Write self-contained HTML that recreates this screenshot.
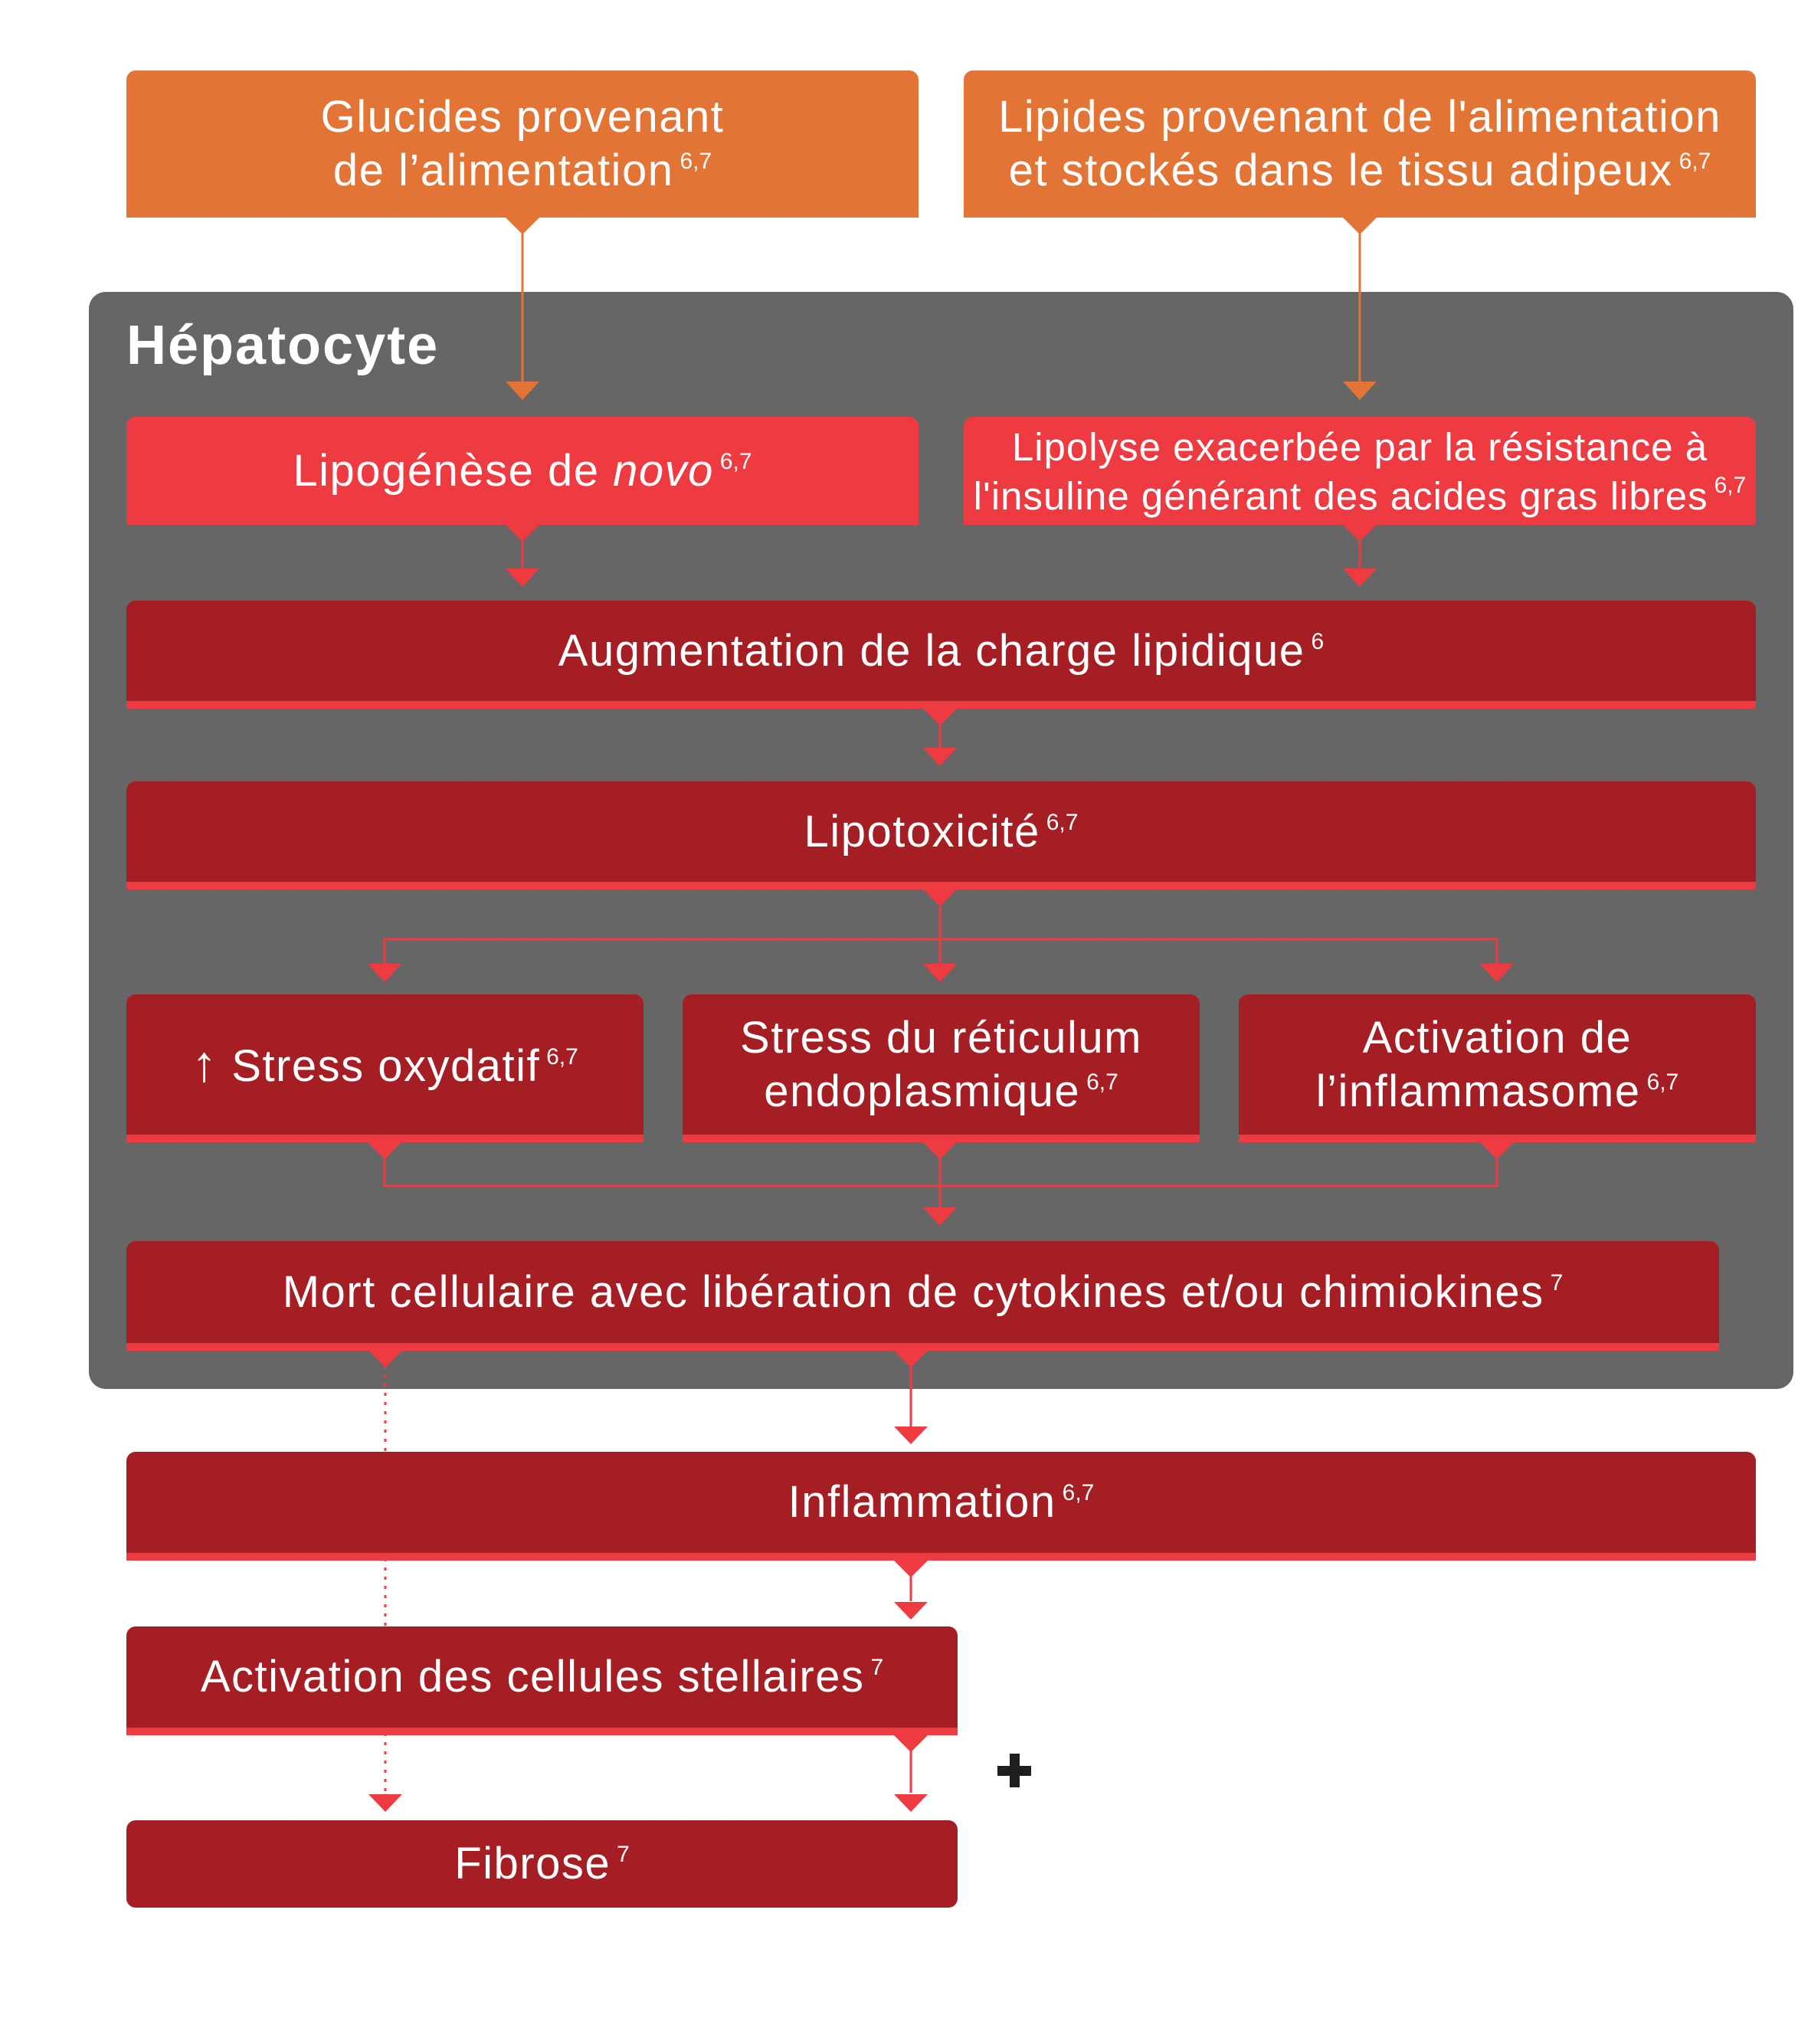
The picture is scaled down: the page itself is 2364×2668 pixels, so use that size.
<!DOCTYPE html>
<html><head><meta charset="utf-8"><style>
html,body{margin:0;padding:0;background:#fff;}
body{width:2364px;height:2668px;position:relative;overflow:hidden;font-family:"Liberation Sans",sans-serif;}
.b{position:absolute;box-sizing:border-box;display:flex;align-items:center;justify-content:center;text-align:center;color:#fff;font-size:58px;letter-spacing:1.5px;line-height:70px;border-radius:12px 12px 0 0;padding-top:10px;}
.o{background:#E27435;}
.r{background:#EE3A41;}
.d{background:#A51E23;border-bottom:10px solid #EE3A41;}
.f{border-radius:12px;border-bottom:none;}
sup{font-size:30px;vertical-align:0;position:relative;top:-22px;margin-left:8px;letter-spacing:0;}
#g{position:absolute;left:116px;top:381px;width:2225px;height:1432px;background:#666;border-radius:22px;}
#h{position:absolute;left:165px;top:410px;font-size:72px;letter-spacing:2px;font-weight:bold;color:#fff;}
svg{position:absolute;left:0;top:0;}
</style></head><body>
<div id="g"></div>
<div id="h">Hépatocyte</div>

<svg width="2364" height="2668" viewBox="0 0 2364 2668">
<g stroke="#E27435" stroke-width="3"><line x1="682" y1="290" x2="682" y2="505"/><line x1="1775" y1="290" x2="1775" y2="505"/></g>
<g stroke="#EE3A41" stroke-width="3" fill="none">
<line x1="682" y1="690" x2="682" y2="745"/><line x1="1775" y1="690" x2="1775" y2="745"/>
<line x1="1227" y1="930" x2="1227" y2="980"/>
<line x1="1227" y1="1165" x2="1227" y2="1260"/>
<polyline points="502,1265 502,1226 1954,1226 1954,1265"/>
<polyline points="502,1510 502,1548 1954,1548 1954,1510"/>
<line x1="1227" y1="1510" x2="1227" y2="1580"/>
<line x1="1189" y1="1770" x2="1189" y2="1868"/>
<line x1="1189" y1="2040" x2="1189" y2="2090"/>
<line x1="1189" y1="2270" x2="1189" y2="2340"/>
<line x1="503" y1="1770" x2="503" y2="2345" stroke-dasharray="4,8"/>
</g>
</svg>

<div class="b o" style="left:165px;top:92px;width:1034px;height:192px;"><span>Glucides provenant<br>de l’alimentation<sup>6,7</sup></span></div>
<div class="b o" style="left:1258px;top:92px;width:1034px;height:192px;"><span>Lipides provenant de l'alimentation<br>et stockés dans le tissu adipeux<sup>6,7</sup></span></div>

<div class="b r" style="left:165px;top:544px;width:1034px;height:141px;"><span>Lipogénèse de <i>novo</i><sup>6,7</sup></span></div>
<div class="b r" style="left:1258px;top:544px;width:1034px;height:141px;font-size:51px;letter-spacing:1px;line-height:64px;"><span>Lipolyse exacerbée par la résistance à<br>l'insuline générant des acides gras libres<sup>6,7</sup></span></div>

<div class="b d" style="left:165px;top:784px;width:2127px;height:141px;"><span>Augmentation de la charge lipidique<sup>6</sup></span></div>
<div class="b d" style="left:165px;top:1020px;width:2127px;height:141px;"><span>Lipotoxicité<sup>6,7</sup></span></div>

<div class="b d" style="left:165px;top:1298px;width:675px;height:193px;"><span><span style="font-size:66px;font-weight:lighter">↑</span> Stress oxydatif<sup>6,7</sup></span></div>
<div class="b d" style="left:891px;top:1298px;width:675px;height:193px;"><span>Stress du réticulum<br>endoplasmique<sup>6,7</sup></span></div>
<div class="b d" style="left:1617px;top:1298px;width:675px;height:193px;"><span>Activation de<br>l’inflammasome<sup>6,7</sup></span></div>

<div class="b d" style="left:165px;top:1620px;width:2079px;height:143px;"><span>Mort cellulaire avec libération de cytokines et/ou chimiokines<sup>7</sup></span></div>
<div class="b d" style="left:165px;top:1895px;width:2127px;height:142px;"><span>Inflammation<sup>6,7</sup></span></div>
<div class="b d" style="left:165px;top:2123px;width:1085px;height:142px;"><span>Activation des cellules stellaires<sup>7</sup></span></div>
<div class="b d f" style="left:165px;top:2376px;width:1085px;height:114px;"><span>Fibrose<sup>7</sup></span></div>

<svg width="2364" height="2668" viewBox="0 0 2364 2668">
<g fill="#E27435" stroke="none">
<polygon points="660,284 704,284 682,306"/><polygon points="1753,284 1797,284 1775,306"/>
<polygon points="660,498 704,498 682,522"/><polygon points="1753,498 1797,498 1775,522"/>
</g>
<g fill="#EE3A41">
<polygon points="660,685 704,685 682,707"/><polygon points="1753,685 1797,685 1775,707"/>
<polygon points="660,742 704,742 682,766"/><polygon points="1753,742 1797,742 1775,766"/>
<polygon points="1205,925 1249,925 1227,947"/><polygon points="1205,976 1249,976 1227,1000"/>
<polygon points="1205,1161 1249,1161 1227,1183"/>
<polygon points="480,1258 524,1258 502,1282"/><polygon points="1205,1258 1249,1258 1227,1282"/><polygon points="1932,1258 1976,1258 1954,1282"/>
<polygon points="480,1491 524,1491 502,1513"/><polygon points="1205,1491 1249,1491 1227,1513"/><polygon points="1932,1491 1976,1491 1954,1513"/>
<polygon points="1205,1576 1249,1576 1227,1600"/>
<polygon points="481,1763 525,1763 503,1785"/><polygon points="1167,1763 1211,1763 1189,1785"/>
<polygon points="1167,1862 1211,1862 1189,1885"/>
<polygon points="1167,2037 1211,2037 1189,2059"/><polygon points="1167,2091 1211,2091 1189,2114"/>
<polygon points="1167,2265 1211,2265 1189,2287"/><polygon points="1167,2342 1211,2342 1189,2365"/>
<polygon points="481,2342 525,2342 503,2365"/>
</g>
<g fill="#1e1e1e"><rect x="1302" y="2305" width="44" height="13"/><rect x="1318" y="2289" width="13" height="44"/></g>
</svg>
</body></html>
